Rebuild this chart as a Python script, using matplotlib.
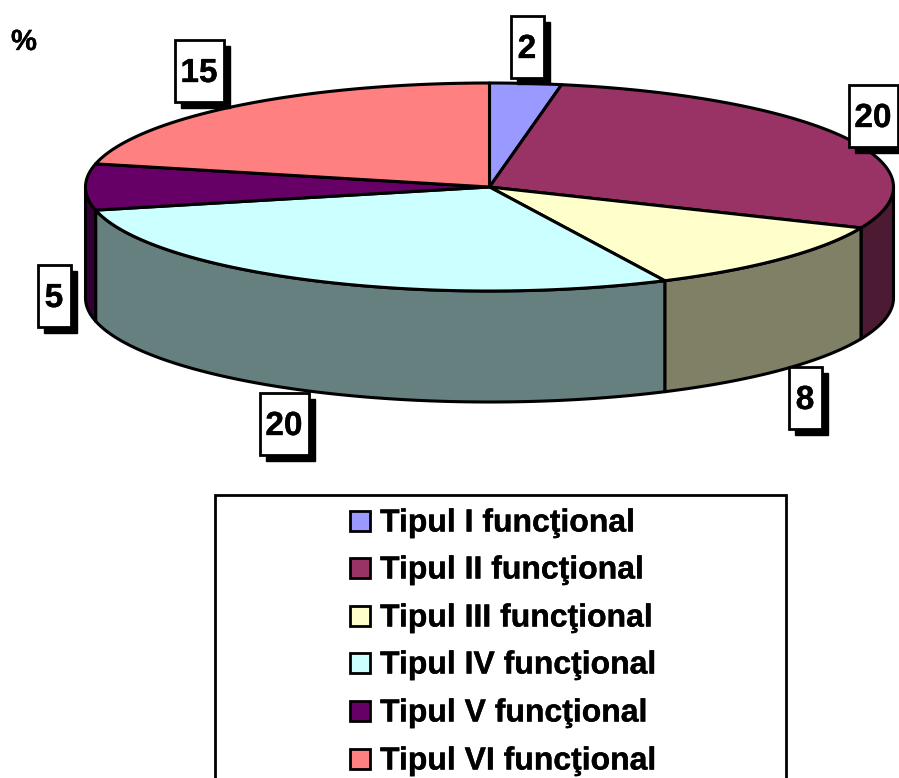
import numpy as np
import matplotlib
matplotlib.use("Agg")
import matplotlib.pyplot as plt
import matplotlib.patheffects as pe
from matplotlib.patches import Polygon, Rectangle

plt.rcParams["font.family"] = ["Liberation Sans", "DejaVu Sans"]

# data
categories = ["Tipul I funcţional", "Tipul II funcţional", "Tipul III funcţional",
              "Tipul IV funcţional", "Tipul V funcţional", "Tipul VI funcţional"]
values = [2, 20, 8, 20, 5, 15]
top_colors = ["#9999ff", "#993366", "#ffffcc", "#ccffff", "#660066", "#ff8080"]
side_colors = ["#4d4d80", "#4d1a33", "#808066", "#668080", "#330033", "#804040"]

# layout, in reference pixels
CX, CY, RX, RY, DEPTH = 489.5, 187, 404, 104, 111
LW = 2.2
# centre of each label box, same order as values
label_xy = [(527, 47), (873, 116), (805, 398), (284, 424), (54, 296), (199, 71)]
LABEL_H = 62
LEG_ROWS = [520, 567, 615, 662, 710, 758]
BOLD = [pe.withStroke(linewidth=0.25, foreground="black")]

fig = plt.figure(figsize=(8.99, 7.78), dpi=100)
ax = fig.add_axes([0, 0, 1, 1])
ax.set_xlim(0, 899)
ax.set_ylim(778, 0)
ax.axis("off")


def rim(a0, a1, drop=0):
    # points on the ellipse, angles clockwise from 12 o'clock in degrees
    t = np.radians(np.linspace(a0, a1, max(int(abs(a1 - a0) * 2), 2)))
    return np.column_stack([CX + RX * np.sin(t), CY + drop - RY * np.cos(t)])


edges = np.cumsum([0] + values) / sum(values) * 360

# side wall, only the front half of the rim shows
for i in range(len(values)):
    a0, a1 = max(edges[i], 90), min(edges[i + 1], 270)
    if a1 <= a0:
        continue
    pts = np.vstack([rim(a0, a1), rim(a0, a1, DEPTH)[::-1]])
    ax.add_patch(Polygon(pts, closed=True, fc=side_colors[i], ec="black", lw=LW,
                         joinstyle="round", zorder=2))

# top face
for i in range(len(values)):
    pts = np.vstack([[CX, CY], rim(edges[i], edges[i + 1])])
    ax.add_patch(Polygon(pts, closed=True, fc=top_colors[i], ec="black", lw=LW,
                         joinstyle="round", zorder=3))

# data labels with drop shadow
for v, (x, y) in zip(values, label_xy):
    w = 33 if v < 10 else 49
    ax.add_patch(Rectangle((x - w / 2 + 6, y - LABEL_H / 2 + 6), w, LABEL_H, fc="black", ec="black",
                           lw=1, zorder=4))
    ax.add_patch(Rectangle((x - w / 2, y - LABEL_H / 2), w, LABEL_H, fc="white", ec="black",
                           lw=2, zorder=5))
    ax.text(x, y - 1, str(v), ha="center", va="center_baseline", fontsize=24, fontweight="bold",
            zorder=6, path_effects=BOLD)

ax.text(11, 39, "%", ha="left", va="center_baseline", fontsize=21, fontweight="bold", path_effects=BOLD)

# legend box runs off the bottom of the picture
ax.add_patch(Rectangle((214.5, 494.5), 571, 300, fc="white", ec="black", lw=2, zorder=2))
for name, col, y in zip(categories, top_colors, LEG_ROWS):
    ax.add_patch(Rectangle((350, y - 9.5), 20, 20, fc=col, ec="black", lw=2, zorder=3))
    ax.text(380, y, name, ha="left", va="center_baseline", fontsize=23, fontweight="bold", zorder=3,
            path_effects=BOLD)

fig.savefig("out.png", dpi=100)
